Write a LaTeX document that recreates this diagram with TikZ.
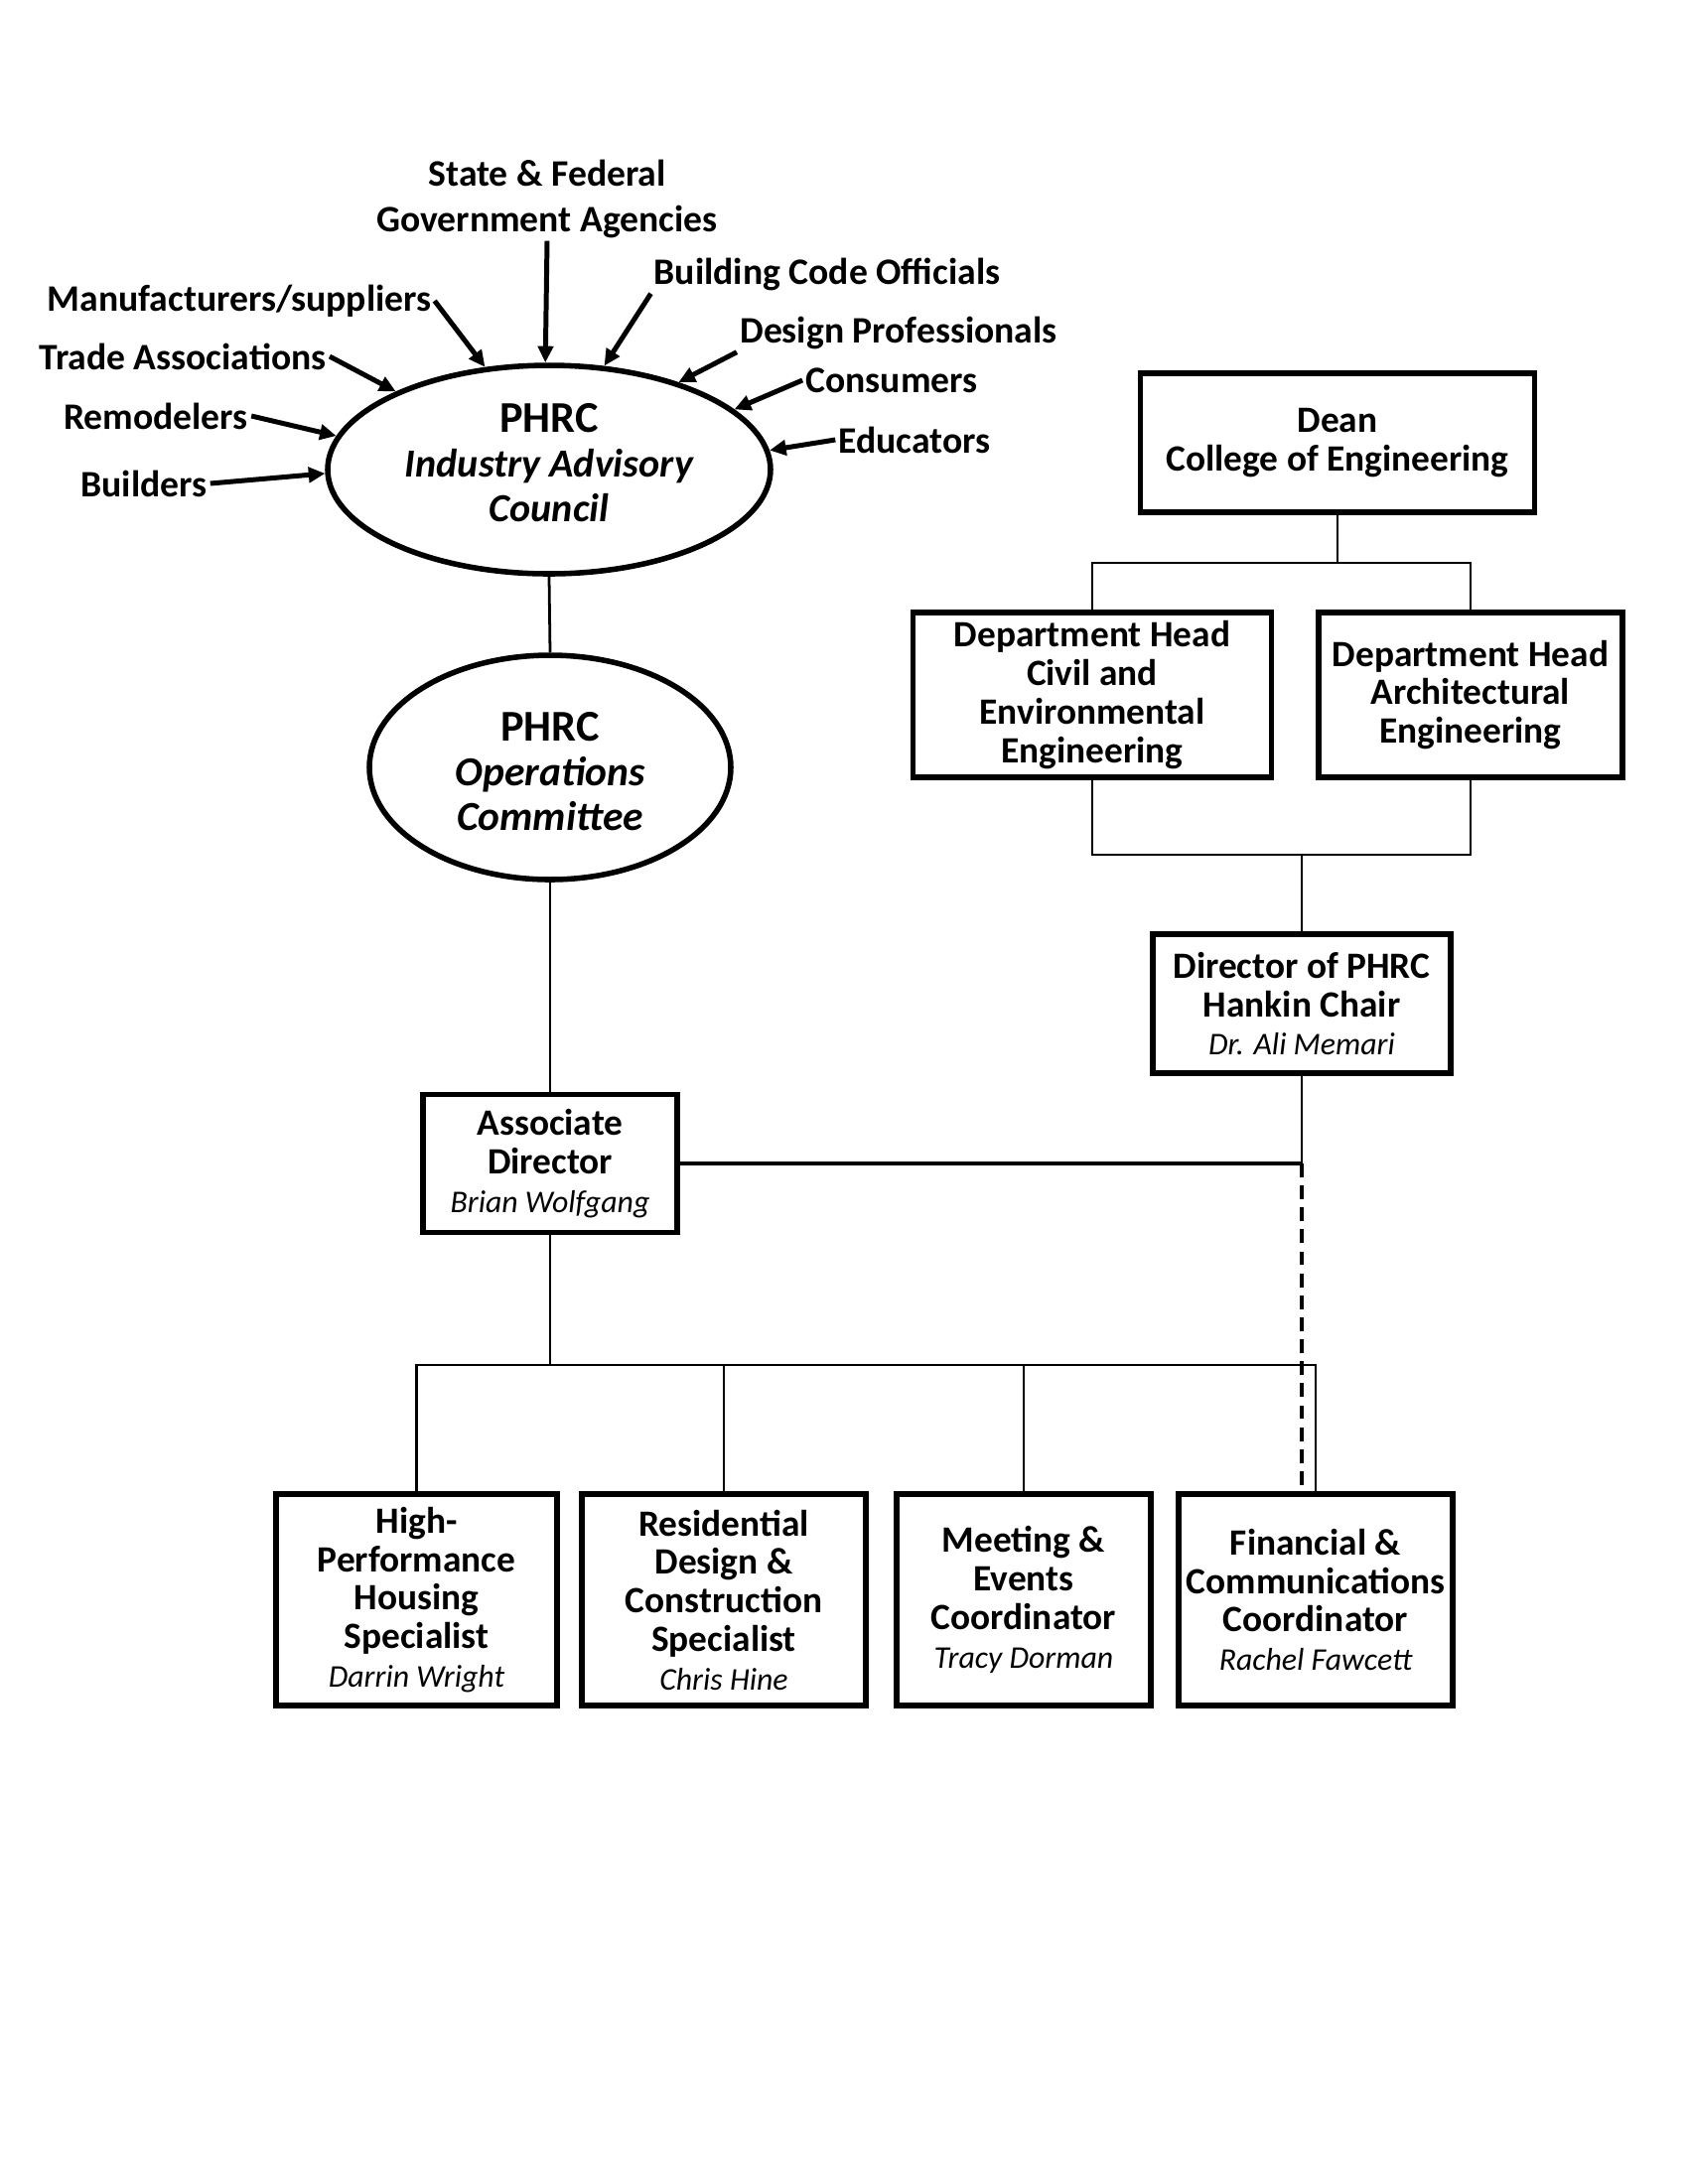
\documentclass[tikz,border=0pt]{standalone}
\usepackage{fontspec}
\setmainfont{Carlito}
\usetikzlibrary{arrows.meta,shapes.geometric}
\def\px{0.36135pt}
\begin{document}
\begin{tikzpicture}[x=0.36135pt,y=-0.36135pt,
  lbl/.style={font=\bfseries\fontsize{13.6}{16.6}\selectfont, inner sep=1pt, align=center},
  box/.style={draw, line width=2pt, align=center, inner sep=0pt, font=\bfseries\fontsize{13.5}{14}\selectfont},
  ell/.style={draw, ellipse, line width=2pt, inner sep=0pt},
  etxt/.style={align=center, inner sep=0pt, font=\bfseries\fontsize{16}{16.4}\selectfont},
  conn/.style={line width=1pt},
  arr/.style={line width=1.8pt, -{Triangle[length=6pt,width=5.5pt]}},
  nm/.style={font=\mdseries\itshape}
]
\fill[white] (0,0) rectangle (1700,2200);
\useasboundingbox (0,0) rectangle (1700,2200);

% ellipses
\node[ell, minimum width=446*\px, minimum height=210*\px] (iac) at (553,473) {};
\node[etxt] (iact) at (553,466)
  {PHRC\\{\fontsize{14.5}{16.4}\selectfont\itshape Industry Advisory}\\{\fontsize{14.5}{16.4}\selectfont\itshape Council}};
\node[ell, minimum width=364*\px, minimum height=226*\px] (ops) at (554,773) {};
\node[etxt] (opst) at (554,777)
  {PHRC\\{\fontsize{15}{16.4}\selectfont\itshape Operations}\\{\fontsize{15}{16.4}\selectfont\itshape Committee}};

% labels
\node[lbl] (stf) at (551,200) {State \& Federal\\Government Agencies};
\node[lbl] (bco) at (833,276) {Building Code Officials};
\node[lbl] (mfr) at (241,303) {Manufacturers/suppliers};
\node[lbl] (dpr) at (905,335) {Design Professionals};
\node[lbl] (tra) at (184,359) {Trade Associations};
\node[lbl] (con) at (898,383) {Consumers};
\node[lbl] (rem) at (157,419) {Remodelers};
\node[lbl] (edu) at (921,443) {Educators};
\node[lbl] (bld) at (145,487) {Builders};

\draw[arr] (stf.south) -- (iac.92);
\draw[arr] (bco.south west) -- (iac.62);
\draw[arr] (mfr.east) -- (iac.122);
\draw[arr] (dpr.south west) -- (iac.34);
\draw[arr] (tra.east) -- (iac.153);
\draw[arr] (con.west) -- (iac.18);
\draw[arr] (rem.east) -- (iac.171);
\draw[arr] (edu.west) -- (iac.5);
\draw[arr] (bld.east) -- (iac.181);

% boxes
\node[box, minimum width=397*\px, minimum height=140*\px] (dean) at (1347,446)
  {Dean\\College of Engineering};
\node[box, minimum width=361*\px, minimum height=166*\px] (civ) at (1100,700)
  {Department Head\\Civil and\\Environmental\\Engineering};
\node[box, minimum width=306*\px, minimum height=166*\px] (arch) at (1481,700)
  {Department Head\\Architectural\\Engineering};
\node[box, minimum width=300*\px, minimum height=140*\px] (dir) at (1311,1011)
  {Director of PHRC\\Hankin Chair\\{\mdseries\itshape\fontsize{11.5}{14}\selectfont Dr. Ali Memari}};
\node[box, minimum width=256*\px, minimum height=139*\px] (ad) at (554,1172)
  {Associate\\Director\\{\mdseries\itshape\fontsize{11.5}{14}\selectfont Brian Wolfgang}};

\node[box, minimum width=283*\px, minimum height=213*\px] (b1) at (419.5,1611.5)
  {High-\\Performance\\Housing\\Specialist\\{\mdseries\itshape\fontsize{11.5}{14}\selectfont Darrin Wright}};
\node[box, minimum width=286*\px, minimum height=213*\px] (b2) at (729,1611.5)
  {Residential\\Design \&\\Construction\\Specialist\\{\mdseries\itshape\fontsize{11.5}{14}\selectfont Chris Hine}};
\node[box, minimum width=256*\px, minimum height=213*\px] (b3) at (1031,1611.5)
  {Meeting \&\\Events\\Coordinator\\{\mdseries\itshape\fontsize{11.5}{14}\selectfont Tracy Dorman}};
\node[box, minimum width=276*\px, minimum height=213*\px] (b4) at (1325,1611.5)
  {Financial \&\\Communications\\Coordinator\\{\mdseries\itshape\fontsize{11.5}{14}\selectfont Rachel Fawcett}};

% connectors
\draw[conn] (iac.south) -- (ops.north);
\draw[conn] (ops.south) -- (ad.north);

\coordinate (dbus) at (1347,567);
\coordinate (dj) at (1311,861);
\draw[conn] (dean.south) -- (dbus);
\draw[conn] (civ.north) |- (dbus) -| (arch.north);
\draw[conn] (civ.south) |- (dj) -| (arch.south);
\draw[conn] (dj) -- (dir.north);

\draw[line width=1.5pt] (ad.east) -- (ad.east -| dir.south);
\draw[conn] (dir.south) -- (dir.south |- ad.east);
\draw[line width=1.2pt, dash pattern=on 5pt off 3pt] (dir.south |- ad.east) -- (dir.south |- b4.north);

\coordinate (bus) at (554,1375);
\draw[conn] (ad.south) -- (bus);
\draw[conn] (b1.north) |- (bus) -| (b4.north);
\draw[conn] (b2.north) -- (b2.north |- bus);
\draw[conn] (b3.north) -- (b3.north |- bus);
\end{tikzpicture}
\end{document}
